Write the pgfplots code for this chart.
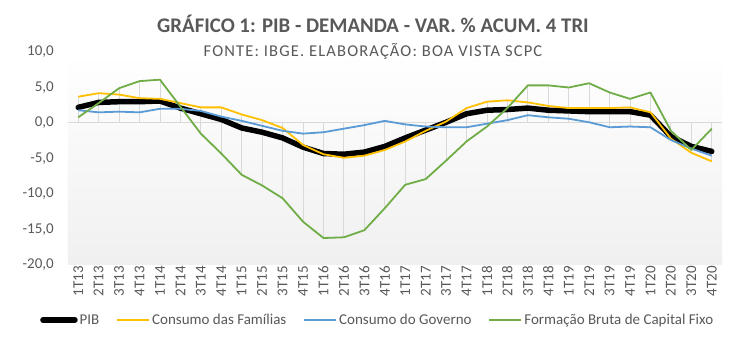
\documentclass[border=0pt]{standalone}
\usepackage{fontspec}
\setmainfont{Carlito}
\usepackage{pgfplots}
\usepackage{pgfplotstable}
\pgfplotsset{compat=1.18}
\definecolor{txt}{HTML}{595959}
\definecolor{cfam}{HTML}{FFC000}
\definecolor{cgov}{HTML}{5B9BD5}
\definecolor{cfbcf}{HTML}{70AD47}
\definecolor{drop}{HTML}{D9D9D9}
\definecolor{bgbot}{HTML}{F0F0F0}

\pgfplotstableread{
i pib fam gov fbcf
0 2.2 3.7 1.8 0.8
1 2.9 4.2 1.5 2.8
2 3.0 4.0 1.6 4.9
3 3.0 3.5 1.5 5.9
4 3.1 3.4 2.0 6.1
5 2.1 2.8 2.0 2.3
6 1.3 2.2 1.7 -1.5
7 0.5 2.2 0.9 -4.3
8 -0.7 1.2 0.3 -7.3
9 -1.3 0.4 -0.4 -8.8
10 -2.1 -0.7 -1.1 -10.6
11 -3.4 -3.1 -1.5 -13.9
12 -4.3 -4.4 -1.3 -16.2
13 -4.4 -4.9 -0.8 -16.1
14 -4.1 -4.6 -0.3 -15.1
15 -3.3 -3.8 0.3 -12.0
16 -2.1 -2.6 -0.2 -8.7
17 -1.0 -1.1 -0.5 -7.9
18 0.1 0.2 -0.6 -5.3
19 1.3 2.1 -0.6 -2.6
20 1.8 3.0 -0.1 -0.5
21 1.9 3.2 0.4 2.1
22 2.1 2.9 1.1 5.3
23 1.8 2.4 0.8 5.3
24 1.7 2.1 0.6 5.0
25 1.6 2.1 0.1 5.6
26 1.6 2.1 -0.6 4.3
27 1.6 2.2 -0.5 3.4
28 1.1 1.5 -0.6 4.3
29 -1.9 -2.2 -2.4 -1.1
30 -3.3 -4.2 -3.6 -3.8
31 -4.0 -5.4 -4.6 -0.8
}\data
\pgfplotstablecreatecol[create col/expr={max(0,\thisrow{pib},\thisrow{fam},\thisrow{gov},\thisrow{fbcf})}]{hi}\data
\pgfplotstablecreatecol[create col/expr={min(0,\thisrow{pib},\thisrow{fam},\thisrow{gov},\thisrow{fbcf})}]{lo}\data

\begin{document}
\begin{tikzpicture}[x=1pt,y=1pt]
\useasboundingbox[fill=white] (0,0) rectangle (745,345);
\begin{axis}[
  at={(68pt,80pt)}, anchor=south west,
  scale only axis, width=654pt, height=213pt,
  xmin=-0.5, xmax=31.5, ymin=-20, ymax=10,
  ytick={-20,-15,...,10},
  xtick={0,...,31},
  xticklabels={1T13,2T13,3T13,4T13,1T14,2T14,3T14,4T14,1T15,2T15,3T15,4T15,1T16,2T16,3T16,4T16,1T17,2T17,3T17,4T17,1T18,2T18,3T18,4T18,1T19,2T19,3T19,4T19,1T20,2T20,3T20,4T20},
  xticklabel style={rotate=90, anchor=east, font=\fontsize{15}{17}\selectfont, text=txt, inner sep=1pt},
  yticklabel style={font=\fontsize{15}{17}\selectfont, text=txt, inner sep=1pt, xshift=-13pt},
  xtick pos=bottom, ytick pos=left,
  major tick length=0pt,
  axis line style={draw=none},
  tick style={draw=none},
  /pgf/number format/.cd, fixed, fixed zerofill, precision=1, use comma, assume math mode=true,
  /pgfplots/.cd,
  extra y ticks={0},
  extra y tick labels={},
  extra y tick style={grid=major, major grid style={draw=drop, line width=1pt}},
  axis background/.style={top color=white, bottom color=bgbot},
  legend columns=4,
  legend style={at={(-0.0428,-0.258)}, anchor=west, draw=none, fill=none, inner sep=0pt,
    font=\fontsize{15}{17}\selectfont, text=txt,
    /tikz/every even column/.append style={column sep=15pt}},
  legend cell align=left,
  legend image code/.code={\draw[#1] (0pt,0pt) -- (32pt,0pt);},
]
\addplot[draw=none, mark=none, forget plot,
  error bars/.cd, y dir=minus, y explicit, error mark=none,
  error bar style={draw=drop, line width=0.9pt}]
  table[x=i, y=hi, y error minus expr=\thisrow{hi}-\thisrow{lo}] {\data};
\addplot[black, line width=5.5pt, line join=round, line cap=round] table[x=i, y=pib] {\data};
\addlegendentry{PIB}
\addplot[cfam, line width=1.8pt, line join=round] table[x=i, y=fam] {\data};
\addlegendentry{Consumo das Famílias}
\addplot[cgov, line width=1.8pt, line join=round] table[x=i, y=gov] {\data};
\addlegendentry{Consumo do Governo}
\addplot[cfbcf, line width=1.8pt, line join=round] table[x=i, y=fbcf] {\data};
\addlegendentry{Formação Bruta de Capital Fixo}
\end{axis}
\node[anchor=base, text=txt, font=\fontsize{20.8}{24}\selectfont\bfseries] at (373,312) {GRÁFICO 1: PIB - DEMANDA - VAR. \% ACUM. 4 TRI};
\node[anchor=base, text=txt, font=\fontsize{16.5}{19}\selectfont\addfontfeatures{LetterSpace=7}] at (373,288) {FONTE: IBGE. ELABORAÇÃO: BOA VISTA SCPC};
\end{tikzpicture}
\end{document}
